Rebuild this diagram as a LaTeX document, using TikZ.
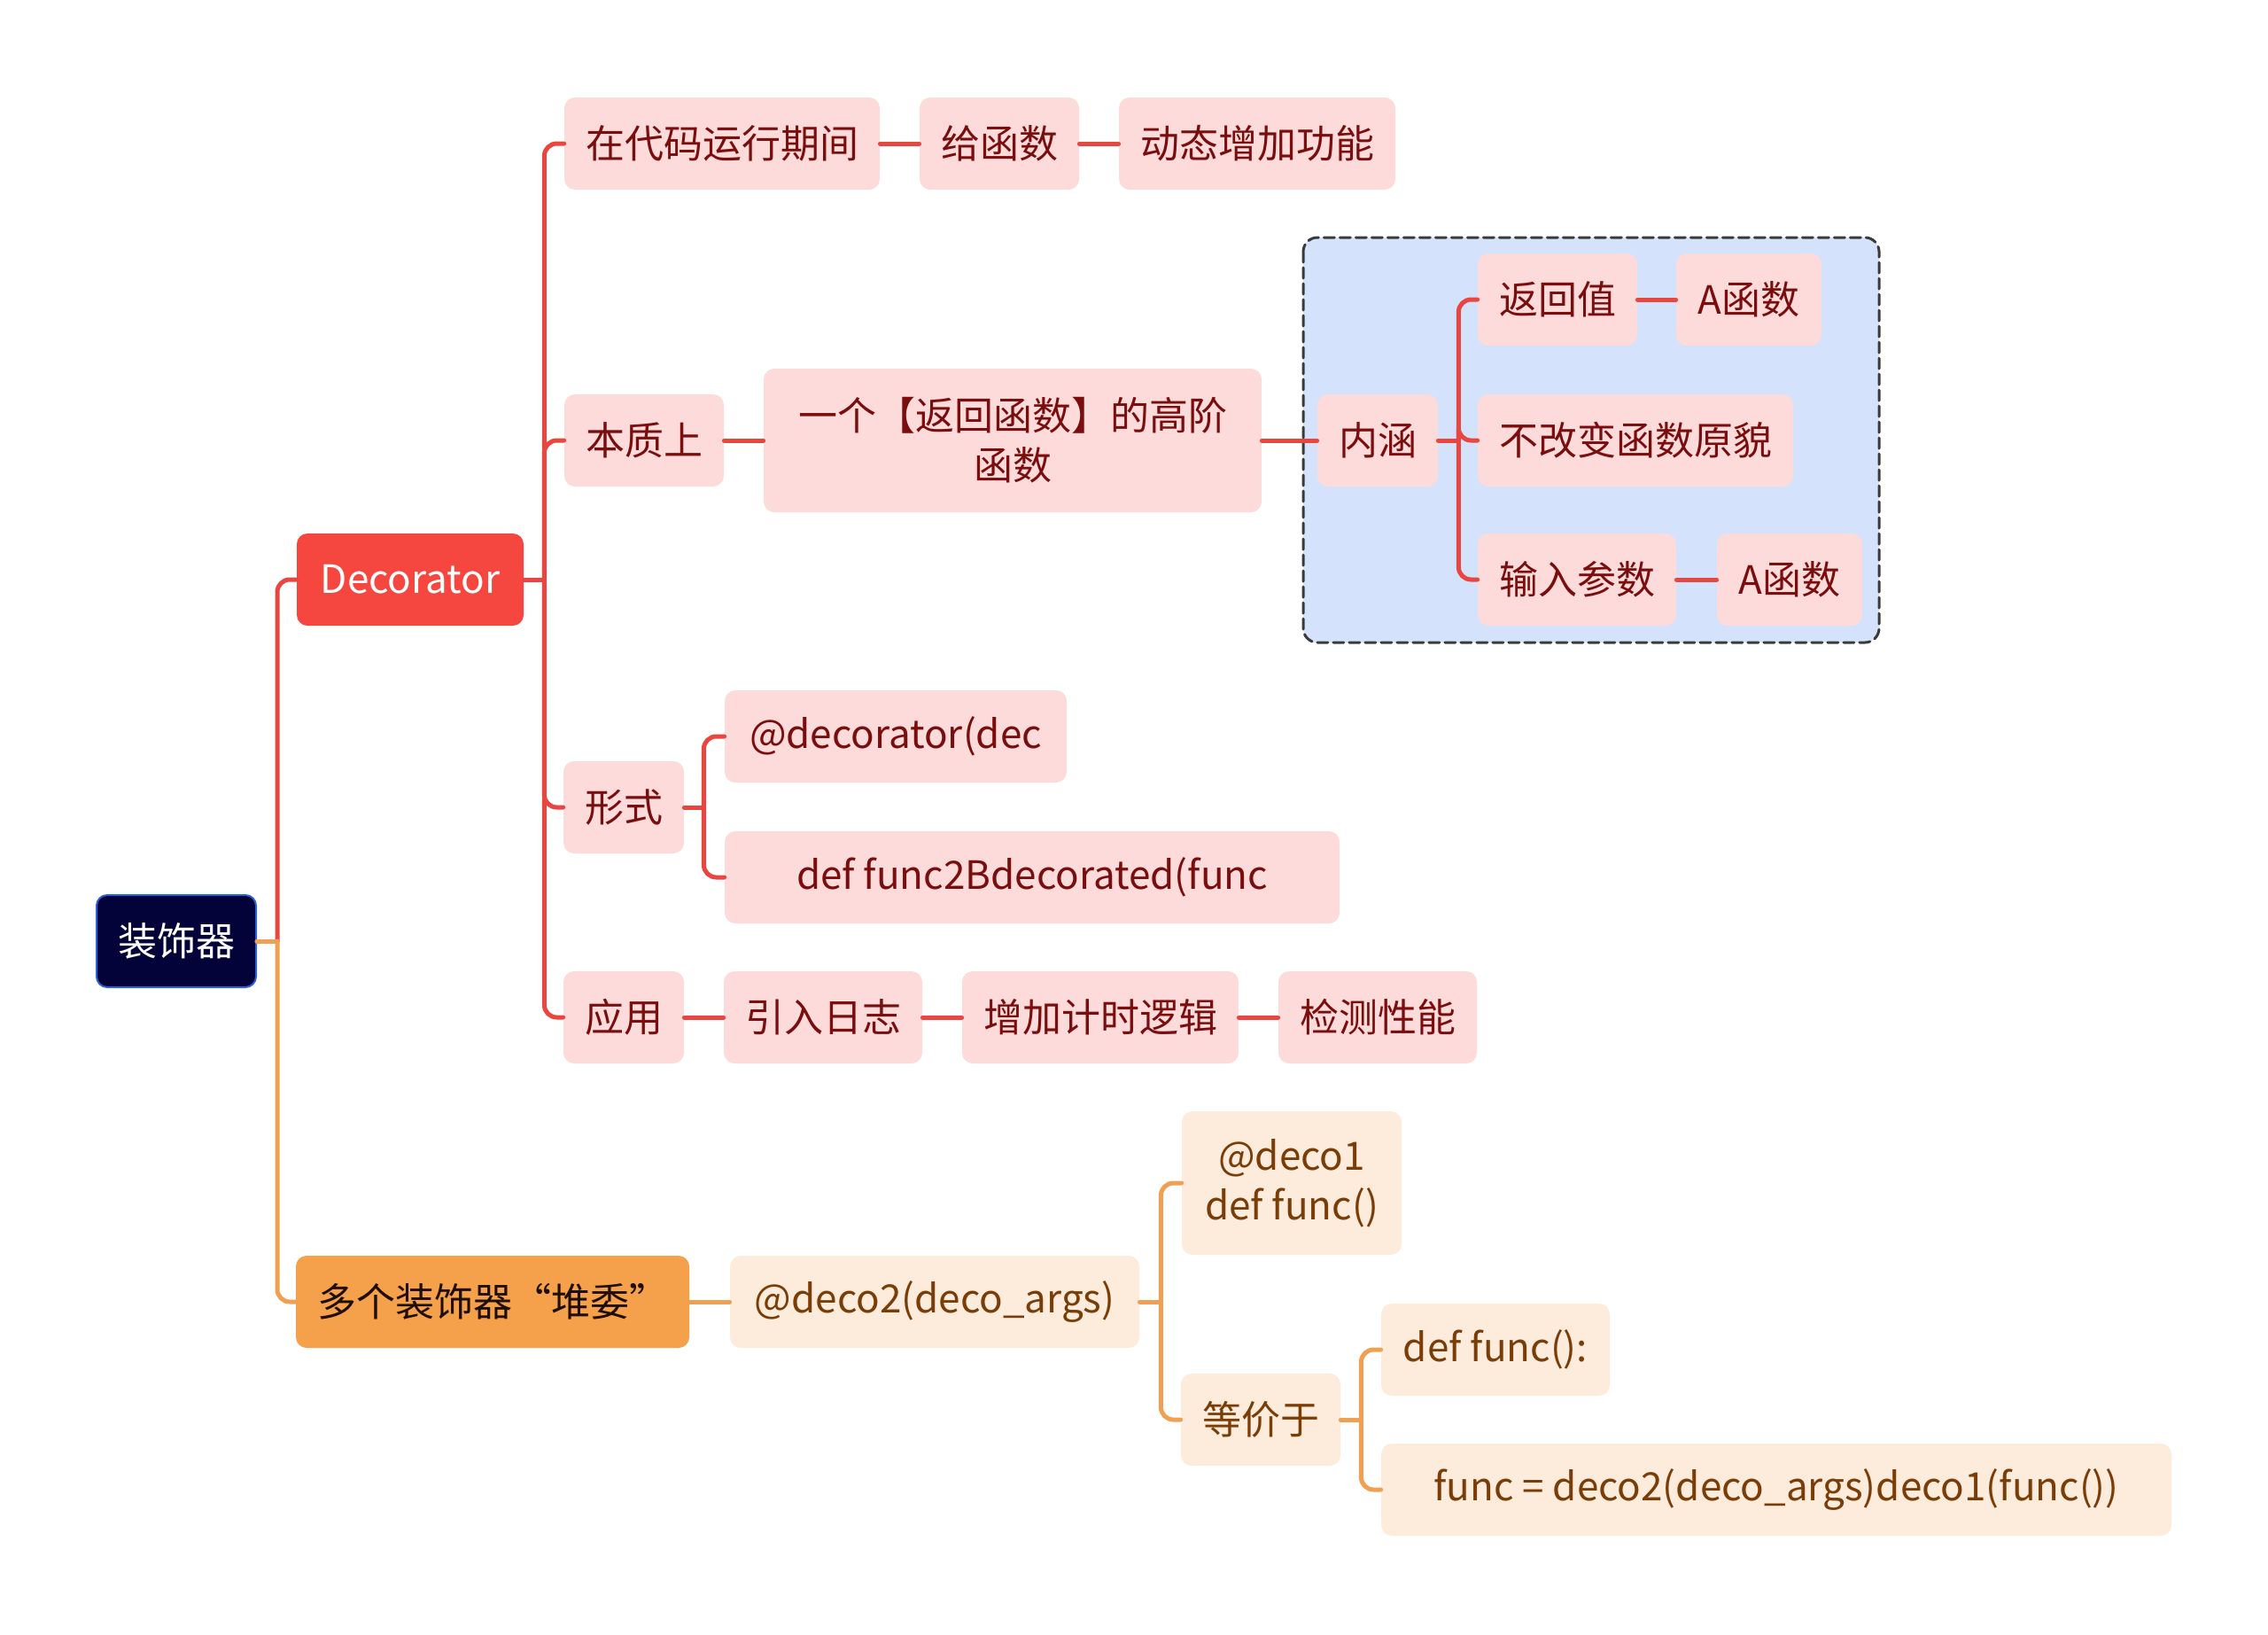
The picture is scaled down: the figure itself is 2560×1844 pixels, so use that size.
\documentclass[tikz,border=0pt]{standalone}
\usepackage{fontspec}
\setmainfont{Noto Sans CJK SC}
\usetikzlibrary{positioning}

\definecolor{rootfill}{HTML}{03033A}
\definecolor{rootdraw}{HTML}{2F5FD0}
\definecolor{decfill}{HTML}{F5473F}
\definecolor{redfill}{HTML}{FCDBDA}
\definecolor{redtext}{HTML}{7A0E0E}
\definecolor{redwire}{HTML}{E8463F}
\definecolor{orgfill}{HTML}{F5A04B}
\definecolor{orgpale}{HTML}{FDEBDC}
\definecolor{orgtext}{HTML}{7A3D08}
\definecolor{orgwire}{HTML}{F0A052}
\definecolor{bluebg}{HTML}{D4E3FB}
\definecolor{dashgray}{HTML}{3A3A3A}

\begin{document}
\begin{tikzpicture}[x=0.5pt,y=-0.5pt,line cap=round,line join=round,
  box/.style={rounded corners=6pt,minimum height=52pt,inner xsep=12pt,inner ysep=3pt,
    align=center,font=\fontsize{22}{28}\selectfont},
  redbox/.style={box,fill=redfill,text=redtext},
  orgbox/.style={box,fill=orgpale,text=orgtext},
  redln/.style={draw=redwire,line width=2.5pt},
  orgln/.style={draw=orgwire,line width=2.5pt},
  elbow/.style={rounded corners=7pt}]
  \useasboundingbox (0,0) rectangle (2560,1844);

  % frame round the inner branch
  \draw[draw=dashgray,fill=bluebg,line width=1.5pt,dash pattern=on 6pt off 3pt,rounded corners=8pt]
    (1471,268) rectangle (2121,725);

  % main topics
  \node[box,fill=rootfill,draw=rootdraw,line width=1pt,text=white,minimum width=88pt] (root) at (199,1062) {装饰器};
  \node[box,fill=decfill,text=white,minimum width=128pt] (dec) at (463,654) {Decorator};
  \node[box,fill=orgfill,text=black!75!orgtext,minimum width=221pt] (multi) at (556,1469) {多个装饰器“堆委”};

  % Decorator branch
  \node[redbox,minimum width=177pt] (run) at (815,162) {在代码运行期间};
  \node[redbox,minimum width=90pt] (give) at (1128,162) {给函数};
  \node[redbox,minimum width=155pt] (dyn) at (1419,162) {动态增加功能};
  \node[redbox,minimum width=89pt] (ess) at (727,497) {本质上};
  \node[redbox,minimum width=281pt,minimum height=81pt] (high) at (1143,497) {一个【返回函数】的高阶\\函数};
  \node[redbox,minimum width=66pt] (mean) at (1555,497) {内涵};
  \node[redbox,minimum width=89pt] (ret) at (1758,338) {返回值};
  \node[redbox,minimum width=82pt] (reta) at (1974,338) {A函数};
  \node[redbox,minimum width=177pt] (keep) at (1846,497) {不改变函数原貌};
  \node[redbox,minimum width=111pt] (arg) at (1780,654) {输入参数};
  \node[redbox,minimum width=82pt] (arga) at (2020,654) {A函数};
  \node[redbox,minimum width=66pt] (form) at (704,911) {形式};
  \node[redbox,minimum width=193pt] (at) at (1011,831) {@decorator(dec};
  \node[redbox,minimum width=347pt] (def) at (1165,990) {def func2Bdecorated(func};
  \node[redbox,minimum width=66pt] (use) at (704,1148) {应用};
  \node[redbox,minimum width=111pt] (log) at (929,1148) {引入日志};
  \node[redbox,minimum width=155pt] (timer) at (1242,1148) {增加计时逻辑};
  \node[redbox,minimum width=110pt] (perf) at (1555,1148) {检测性能};

  % stacking branch
  \node[orgbox,minimum width=231pt] (deco) at (1055,1469) {@deco2(deco\_args)};
  \node[orgbox,minimum width=124pt,minimum height=81pt] (deco1) at (1458,1335) {@deco1\\def func()};
  \node[orgbox,minimum width=89pt] (same) at (1423,1602) {等价于};
  \node[orgbox,minimum width=129pt] (fdef) at (1688,1523) {def func():};
  \node[orgbox,minimum width=446pt] (fcall) at (2005,1681) {func = deco2(deco\_args)deco1(func())};

  % connectors
  \draw[redln] (root.east) -- ++(23,0) coordinate (j0);
  \draw[redln,elbow] (j0) |- (dec.west);
  \draw[orgln] (root.east) -- (j0);
  \draw[orgln,elbow] (j0) |- (multi.west);

  \draw[redln] (dec.east) -- ++(23,0) coordinate (j1);
  \foreach \n in {run,ess,form,use}
    \draw[redln,elbow] (j1) |- (\n.west);
  \draw[redln] (mean.east) -- ++(23,0) coordinate (j2);
  \foreach \n in {ret,keep,arg}
    \draw[redln,elbow] (j2) |- (\n.west);
  \draw[redln] (form.east) -- ++(22,0) coordinate (j3);
  \foreach \n in {at,def}
    \draw[redln,elbow] (j3) |- (\n.west);
  \foreach \a/\b in {run/give,give/dyn,ess/high,high/mean,ret/reta,arg/arga,use/log,log/timer,timer/perf}
    \draw[redln] (\a) -- (\b);

  \draw[orgln] (multi) -- (deco);
  \draw[orgln] (deco.east) -- ++(24,0) coordinate (j4);
  \foreach \n in {deco1,same}
    \draw[orgln,elbow] (j4) |- (\n.west);
  \draw[orgln] (same.east) -- ++(23,0) coordinate (j5);
  \foreach \n in {fdef,fcall}
    \draw[orgln,elbow] (j5) |- (\n.west);
\end{tikzpicture}
\end{document}
